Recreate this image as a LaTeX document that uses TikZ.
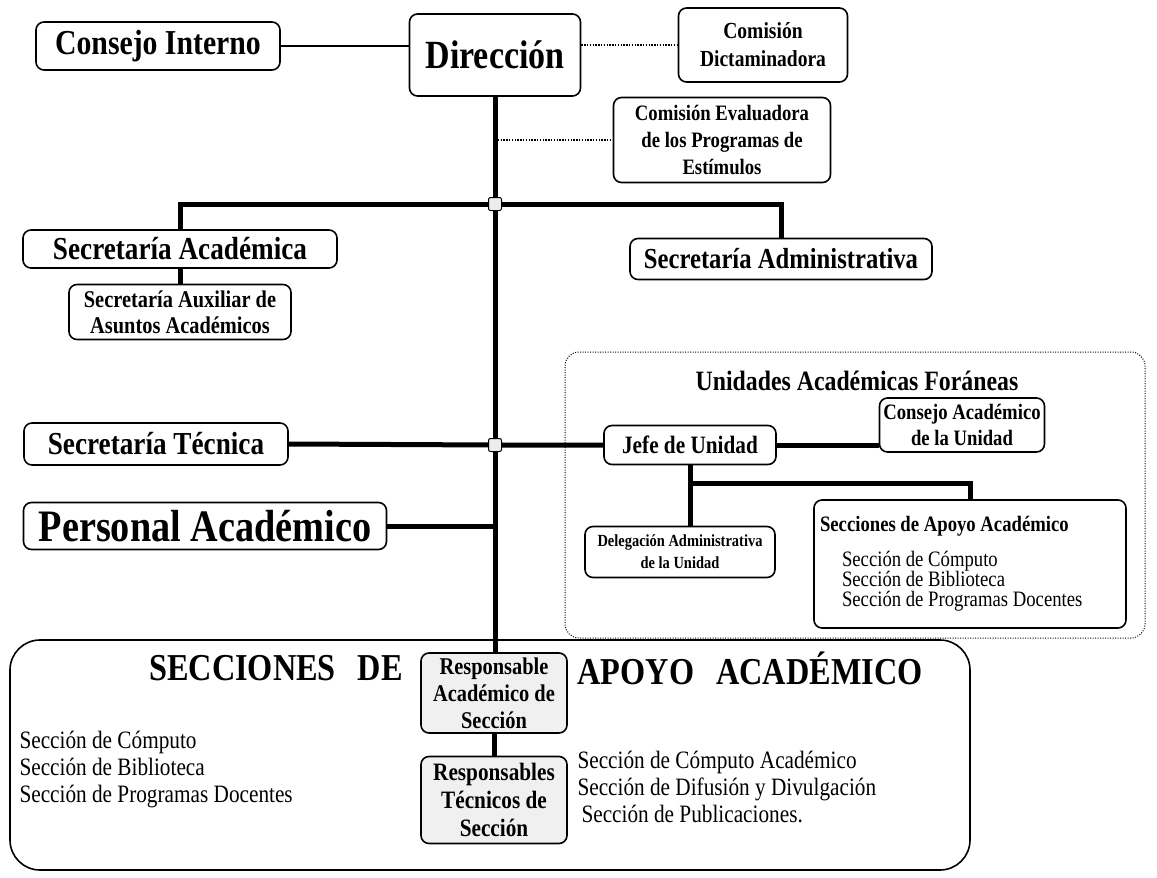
\documentclass[tikz,border=0pt]{standalone}
\usepackage{fontspec}
\setmainfont{Liberation Serif}[FakeStretch=0.85]
\usepackage{tikz}
\usetikzlibrary{positioning, calc}

\newcommand{\tsize}[2]{\fontsize{#1}{#2}\selectfont}

\tikzset{
    box/.style={draw, rounded corners=8pt, line width=1.6pt, align=center, inner sep=2pt},
    greybox/.style={box, fill=gray!12},
    link/.style={line width=5pt},
    thinlink/.style={line width=1.8pt},
    dotlink/.style={line width=1.6pt, dash pattern=on 1.4pt off 1.4pt},
    joint/.style={draw, fill=gray!15, rounded corners=2pt, minimum size=13pt, inner sep=0pt, line width=1pt}
}

\begin{document}
\begin{tikzpicture}[x=1pt, y=-1pt]
    \useasboundingbox (0,0) rectangle (1157,878);

    % Top
    \node[box, minimum width=244pt, minimum height=48pt, font=\tsize{35}{40}\bfseries] (consejo) at (158,46) {Consejo Interno};
    \node[box, minimum width=171pt, minimum height=82pt, font=\tsize{40}{46}\bfseries] (dir) at (495,55) {Dirección};
    \node[box, minimum width=169pt, minimum height=74pt, font=\tsize{23}{28}\bfseries] (dictam) at (763,45) {Comisión\\ Dictaminadora};
    \node[box, minimum width=217pt, minimum height=85pt, font=\tsize{22}{27}\bfseries] (evalua) at (722,140) {Comisión Evaluadora\\ de los Programas de\\ Estímulos};

    % Secretarias
    \node[box, minimum width=314pt, minimum height=38pt, font=\tsize{32}{34}\bfseries] (secacad) at (180,249) {Secretaría Académica};
    \node[box, minimum width=222pt, minimum height=55pt, font=\tsize{24}{26}\bfseries] (secaux) at (180,312) {Secretaría Auxiliar de\\ Asuntos Académicos};
    \node[box, minimum width=302pt, minimum height=41pt, font=\tsize{29}{33}\bfseries] (secadm) at (781,259) {Secretaría Administrativa};
    \node[box, minimum width=264pt, minimum height=42pt, font=\tsize{32}{34}\bfseries] (sectec) at (156,444) {Secretaría Técnica};
    \node[box, minimum width=363pt, minimum height=47pt, font=\tsize{45}{50}\bfseries] (personal) at (205,526) {Personal Académico};

    % Unidades foraneas
    \node[draw, rounded corners=14pt, line width=1pt, dash pattern=on 1pt off 1.5pt, minimum width=580pt, minimum height=286pt] (foraneas) at (855,495) {};
    \node[font=\tsize{28}{32}\bfseries] (foratit) at (857,381) {Unidades Académicas Foráneas};
    \node[box, minimum width=172pt, minimum height=39pt, font=\tsize{25}{28}\bfseries] (jefe) at (690,445) {Jefe de Unidad};
    \node[box, minimum width=165pt, minimum height=54pt, font=\tsize{22}{26}\bfseries] (consac) at (962,425) {Consejo Académico\\ de la Unidad};
    \node[box, minimum width=190pt, minimum height=51pt, font=\tsize{17}{22}\bfseries] (deleg) at (680,552) {Delegación Administrativa\\ de la Unidad};
    \node[box, minimum width=312pt, minimum height=128pt, align=flush left, text width=300pt, font=\tsize{22}{20}] (secap) at (970,564) {\textbf{Secciones de Apoyo Académico}\\[14pt]
        \hspace*{22pt}Sección de Cómputo\\ \hspace*{22pt}Sección de Biblioteca\\ \hspace*{22pt}Sección de Programas Docentes};

    % Secciones de apoyo
    \node[draw, rounded corners=30pt, line width=1.6pt, minimum width=960pt, minimum height=230pt] (apoyo) at (490,755) {};
    \node[font=\tsize{38}{42}\bfseries] (apoyoa) at (276,668) {SECCIONES\hspace{14pt} DE};
    \node[anchor=west, font=\tsize{38}{42}\bfseries] (apoyob) at (574,668) {APOYO\hspace{14pt} ACADÉMICO};
    \node[greybox, minimum width=146pt, minimum height=80pt, font=\tsize{24}{27}\bfseries] (respac) at (494,693) {Responsable\\ Académico de\\ Sección};
    \node[greybox, minimum width=146pt, minimum height=87pt, font=\tsize{25}{28}\bfseries] (resptec) at (494,800) {Responsables\\ Técnicos de\\ Sección};
    \node[anchor=north west, align=left, font=\tsize{25}{27}] (listizq) at (16,728) {Sección de Cómputo\\ Sección de Biblioteca\\ Sección de Programas Docentes};
    \node[anchor=north west, align=left, font=\tsize{25}{27}] (listder) at (574,748) {Sección de Cómputo Académico\\ Sección de Difusión y Divulgación\\ \hspace*{4pt}Sección de Publicaciones.};

    % Junctions
    \coordinate (j1) at (495,204);
    \coordinate (j2) at (495,445);
    \coordinate (ubranch) at (690,483);

    % Lines
    \draw[thinlink] (consejo) -- (consejo.east -| dir.west);
    \draw[dotlink] (dir.east |- dictam.west) -- (dictam.west);
    \draw[dotlink] (evalua.west -| dir.south) -- (evalua.west);
    \draw[link] (dir.south) -- (j1) -- (j2) -- (j2 |- respac.north);
    \draw[link] (secacad.north) |- (j1) -| (secadm.north);
    \draw[link] (secacad) -- (secaux);
    \draw[link] (sectec.east) -- (j2) -- (jefe.west);
    \draw[link] (personal.east) -- (personal.east -| j2);
    \draw[link] (jefe.east) -- (jefe.east -| consac.west);
    \draw[link] (jefe.south) -- (ubranch) -| (secap.north);
    \draw[link] (ubranch) -- (ubranch |- deleg.north);
    \draw[link] (respac) -- (resptec);

    \node[joint] (j1box) at (j1) {};
    \node[joint] (j2box) at (j2) {};
\end{tikzpicture}
\end{document}
